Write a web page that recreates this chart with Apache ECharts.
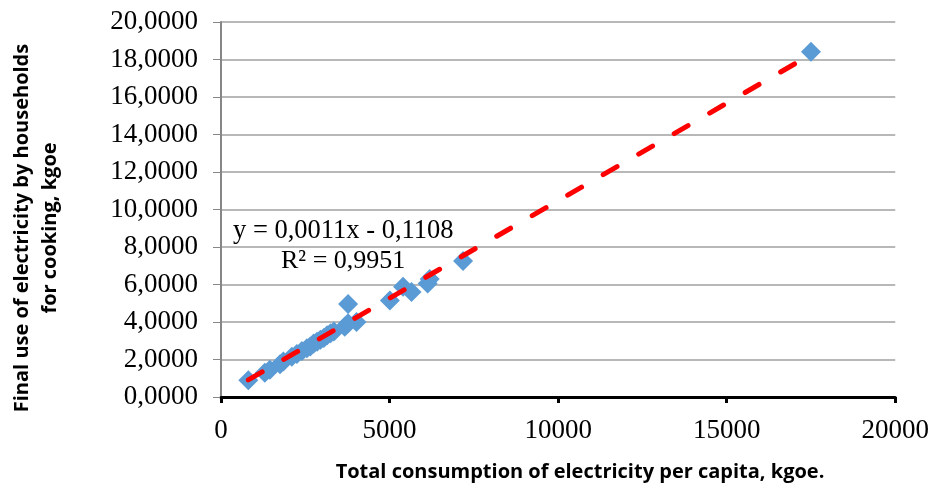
<!DOCTYPE html>
<html>
<head>
<meta charset="utf-8">
<script src="https://cdn.jsdelivr.net/npm/echarts@6/dist/echarts.min.js"></script>
<style>html,body{margin:0;padding:0;background:#fff}#c{width:932px;height:486px}</style>
</head>
<body>
<div id="c"></div>
<script>
const xValues = [810, 1300, 1450, 1750, 1850, 2100, 2250, 2400, 2550, 2650, 2750, 2850, 2950, 3050, 3150, 3250, 3350, 3670, 3770, 3770, 4020, 5010, 5400, 5650, 6130, 6190, 7180, 17500];
const yValues = [0.9, 1.3, 1.45, 1.75, 1.9, 2.15, 2.3, 2.45, 2.6, 2.7, 2.85, 2.95, 3.05, 3.15, 3.3, 3.4, 3.5, 3.75, 4.96, 3.93, 4.0, 5.15, 5.88, 5.6, 6.05, 6.3, 7.25, 18.42];
const trendX = [810, 17500];
const trendY = [0.91, 18.27];
const equationText = 'y = 0,0011x - 0,1108';
const r2Text = 'R² = 0,9951';
const xTitle = 'Total consumption of electricity per capita, kgoe.';
const yTitle = 'Final use of electricity by households\nfor cooking, kgoe';

const points = xValues.map((x, i) => [x, yValues[i]]);
const trend = trendX.map((x, i) => [x, trendY[i]]);

const chart = echarts.init(document.getElementById('c'));
chart.setOption({
  animation: false,
  grid: { left: 221, right: 36, top: 22, bottom: 89 },
  xAxis: {
    type: 'value', min: 0, max: 20000, interval: 5000,
    axisLine: { show: true, lineStyle: { color: '#000', width: 3 } },
    axisTick: { show: true, length: 6, lineStyle: { color: '#000', width: 3 } },
    splitLine: { show: false },
    axisLabel: { fontFamily: 'Liberation Serif', fontSize: 27, color: '#000', margin: 20,
      formatter: v => String(v) }
  },
  yAxis: {
    type: 'value', min: 0, max: 20, interval: 2,
    axisLine: { show: true, lineStyle: { color: '#868686', width: 2 } },
    axisTick: { show: true, length: 8, lineStyle: { color: '#868686', width: 1 } },
    splitLine: { show: true, lineStyle: { color: '#a0a0a0', width: 1.5 } },
    axisLabel: { fontFamily: 'Liberation Serif', fontSize: 27, color: '#000', margin: 23,
      formatter: v => v.toFixed(4).replace('.', ',') }
  },
  series: [
    {
      type: 'scatter', data: points, symbol: 'diamond', symbolSize: 20,
      itemStyle: { color: '#5B9BD5', opacity: 1 }, z: 2
    },
    {
      type: 'line', data: trend, symbol: 'none',
      lineStyle: { color: '#FF0000', width: 5, type: [16, 25], cap: 'round' }, z: 3
    }
  ],
  graphic: [
    { type: 'text', x: 233, y: 231, z: 10, style: { text: equationText, font: '26.5px "Liberation Serif"', fill: '#000', verticalAlign: 'middle' } },
    { type: 'text', x: 281, y: 261, z: 10, style: { text: r2Text, font: '26px "Liberation Serif"', fill: '#000', verticalAlign: 'middle' } },
    { type: 'text', x: 580, y: 472, z: 10, style: { text: xTitle, font: 'bold 20px "Open Sans"', fill: '#000', align: 'center', verticalAlign: 'middle' } },
    { type: 'text', x: 36, y: 228, rotation: Math.PI / 2, z: 10, style: { text: yTitle, font: 'bold 20px "Open Sans"', fill: '#000', align: 'center', verticalAlign: 'middle', lineHeight: 28 } }
  ]
});
</script>
</body>
</html>
